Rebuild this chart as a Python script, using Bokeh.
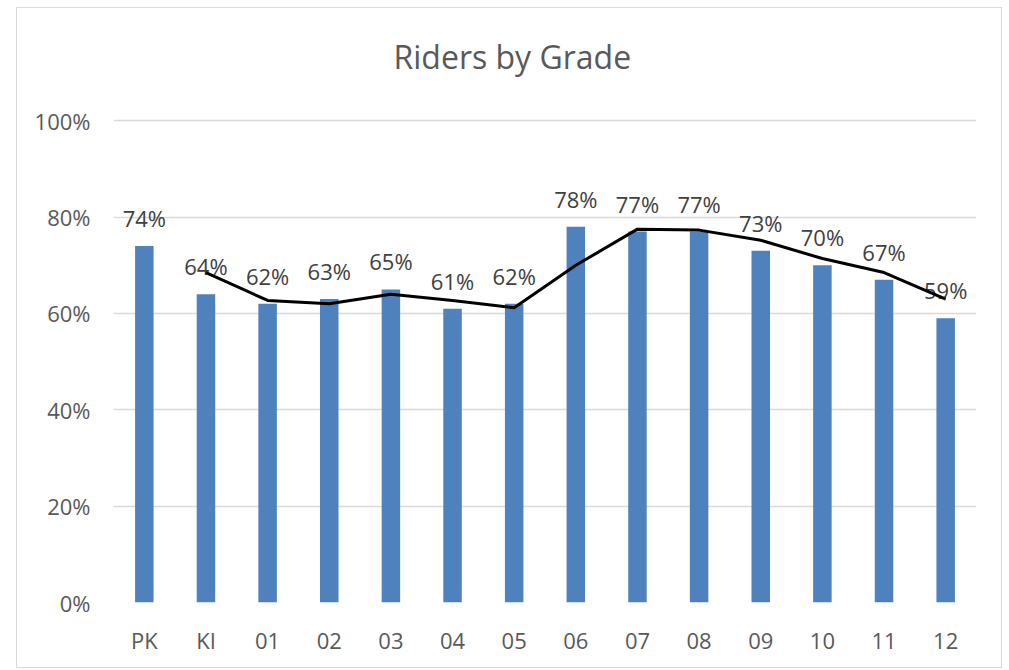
from bokeh.plotting import figure
from bokeh.models import ColumnDataSource, NumeralTickFormatter, FixedTicker, FactorRange, Range1d, Label
from bokeh.core.properties import value
from bokeh.embed import file_html
from bokeh.resources import INLINE

title_text = "Riders by Grade"
grades = ["PK", "KI", "01", "02", "03", "04", "05", "06", "07", "08", "09", "10", "11", "12"]
riders = [0.74, 0.64, 0.62, 0.63, 0.65, 0.61, 0.62, 0.78, 0.77, 0.77, 0.73, 0.70, 0.67, 0.59]
trend_grades = ["KI", "01", "02", "03", "04", "05", "06", "07", "08", "09", "10", "11", "12"]
trend = [0.685, 0.627, 0.62, 0.64, 0.627, 0.612, 0.70, 0.775, 0.773, 0.752, 0.714, 0.685, 0.63]
y_ticks = [0, 0.2, 0.4, 0.6, 0.8, 1.0]

FONT = "Open Sans"

p = figure(
    x_range=FactorRange(factors=grades, range_padding=0),
    y_range=Range1d(0, 1.204),
    width=986, height=661,
    output_backend="svg", toolbar_location=None,
    min_border_left=96, min_border_right=27, min_border_top=14, min_border_bottom=67,
)
p.styles = {"border": "1px solid #d9d9d9", "box-sizing": "border-box",
            "margin-left": "16px", "margin-top": "7px"}
p.outline_line_color = None
p.background_fill_color = "white"
p.border_fill_color = "white"

p.add_layout(Label(x=6.47, y=1.133, text=title_text, text_align="center", text_baseline="middle",
                   text_font=FONT, text_font_size="32px", text_color="#595959"))

src = ColumnDataSource(dict(g=grades, v=riders, lab=[f"{round(v*100)}%" for v in riders]))
p.vbar(x="g", top="v", width=0.3, source=src, fill_color="#4F81BD", line_color=None)
p.text(x="g", y="v", text="lab", source=src, text_align="center", text_baseline="bottom",
       y_offset=-13, text_font=value(FONT), text_font_size="22px", text_color="#404040")
p.line(x=trend_grades, y=trend, line_color="black", line_width=3)

p.xgrid.grid_line_color = None
p.ygrid.grid_line_color = "#d9d9d9"
p.ygrid.grid_line_width = 1.5
p.yaxis.ticker = FixedTicker(ticks=y_ticks)
p.yaxis.formatter = NumeralTickFormatter(format="0%")
for ax in (p.xaxis[0], p.yaxis[0]):
    ax.axis_line_color = None
    ax.major_tick_line_color = None
    ax.minor_tick_line_color = None
    ax.major_tick_out = 0
    ax.major_tick_in = 0
    ax.major_label_text_font = FONT
    ax.major_label_text_font_size = "22px"
    ax.major_label_text_color = "#595959"
p.yaxis.major_label_standoff = 23
p.xaxis.major_label_standoff = 22

open("out.html", "w").write(file_html(p, INLINE))
